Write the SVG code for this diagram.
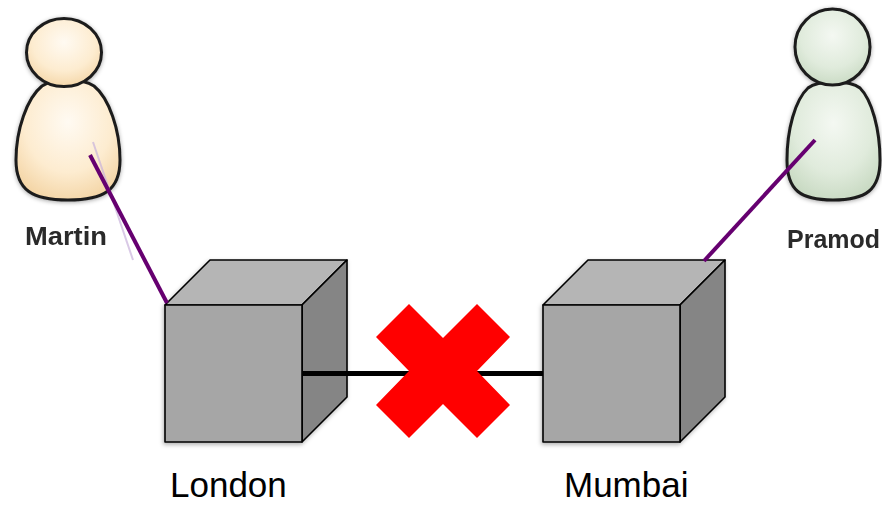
<svg xmlns="http://www.w3.org/2000/svg" width="882" height="505" viewBox="0 0 882 505">
  <style>
    .person-outline { stroke: #1c1c1c; stroke-width: 3; }
    .plabel { font-family: "Liberation Sans", Arial, sans-serif; font-weight: bold; font-size: 25px; fill: #2b2b2b; }
    .cube { stroke: #000; stroke-width: 1.6; stroke-linejoin: round; }
    .top { fill: #b5b5b5; }
    .front { fill: #a6a6a6; }
    .side { fill: #858585; }
    .city { font-family: "Liberation Sans", Arial, sans-serif; font-size: 35px; fill: #000; }
    .link { stroke: #660070; stroke-width: 4; stroke-linecap: butt; fill: none; }
    .wire { stroke: #000; stroke-width: 5; fill: none; }
  </style>
  <defs>
    <radialGradient id="peach" cx="0.5" cy="0.35" r="0.7">
      <stop offset="0" stop-color="#fffaf2"/>
      <stop offset="0.6" stop-color="#fdecd0"/>
      <stop offset="1" stop-color="#f3d3a2"/>
    </radialGradient>
    <radialGradient id="sage" cx="0.5" cy="0.35" r="0.7">
      <stop offset="0" stop-color="#f4f8f2"/>
      <stop offset="0.6" stop-color="#e0ebdc"/>
      <stop offset="1" stop-color="#c6d8c0"/>
    </radialGradient>
    <filter id="soft" x="-20%" y="-20%" width="140%" height="140%">
      <feDropShadow dx="0" dy="1" stdDeviation="2" flood-color="#000" flood-opacity="0.35"/>
    </filter>
    <filter id="blur" x="-10%" y="-30%" width="120%" height="160%">
      <feGaussianBlur stdDeviation="0.7"/>
    </filter>
    <filter id="cubeshadow" x="-10%" y="-10%" width="120%" height="120%">
      <feDropShadow dx="-1" dy="2" stdDeviation="2" flood-color="#000" flood-opacity="0.3"/>
    </filter>
  </defs>

  <g id="martin">
    <g filter="url(#soft)">
      <path class="person-outline" fill="url(#peach)" d="M42,86 C27,98 16,130 16,160 C16,190 32,200 68,200 C104,200 120,190 120,160 C120,130 109,98 94,86 C82,78 54,78 42,86 Z"/>
      <ellipse class="person-outline" fill="url(#peach)" cx="64" cy="52.5" rx="37.5" ry="34"/>
    </g>
    <text class="plabel" x="25" y="245" textLength="82" lengthAdjust="spacingAndGlyphs" filter="url(#blur)">Martin</text>
  </g>

  <g id="pramod">
    <g filter="url(#soft)">
      <path class="person-outline" fill="url(#sage)" d="M808,88 C795,100 787,130 787,160 C787,190 800,200 833,200 C866,200 880,190 880,160 C880,130 872,100 860,88 C850,80 818,80 808,88 Z"/>
      <ellipse class="person-outline" fill="url(#sage)" cx="832.5" cy="47" rx="37.5" ry="38"/>
    </g>
    <text class="plabel" x="787" y="248" textLength="93" lengthAdjust="spacingAndGlyphs" filter="url(#blur)">Pramod</text>
  </g>

  <g id="london">
    <g class="cube" filter="url(#cubeshadow)">
      <polygon class="top" points="165,305 210,260 347,260 302,305"/>
      <polygon class="side" points="302,305 347,260 347,397 302,442"/>
      <rect class="front" x="165" y="305" width="137" height="137"/>
    </g>
    <text class="city" x="170" y="497">London</text>
  </g>

  <g id="mumbai">
    <g class="cube" filter="url(#cubeshadow)">
      <polygon class="top" points="543,305 588,260 725,260 680,305"/>
      <polygon class="side" points="680,305 725,260 725,397 680,442"/>
      <rect class="front" x="543" y="305" width="137" height="137"/>
    </g>
    <text class="city" x="564" y="497">Mumbai</text>
  </g>

  <g id="connectors">
    <line x1="93" y1="142" x2="133" y2="260" stroke="#c9b3dc" stroke-width="2" opacity="0.7"/>
    <line class="link" x1="90" y1="155" x2="167" y2="303"/>
    <line class="link" x1="815" y1="140" x2="704" y2="261"/>
    <line class="wire" x1="302" y1="373.5" x2="543" y2="373.5"/>
  </g>

  <g id="broken">
    <polygon fill="#ff0000" points="409,304 443,338 477,304 510,337 477,371 510,405 477,438 443,404 409,438 376,405 409,371 376,337"/>
  </g>
</svg>
